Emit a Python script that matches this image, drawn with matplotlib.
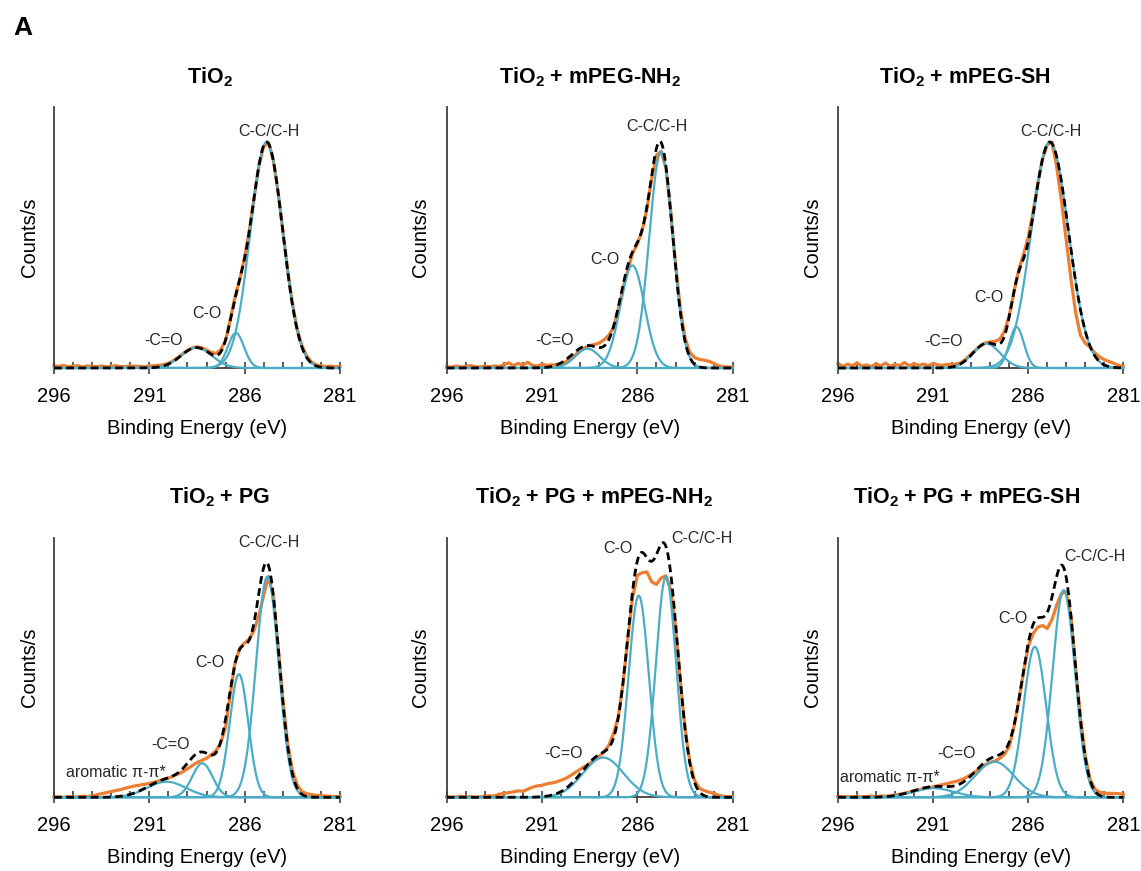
import numpy as np
import matplotlib
matplotlib.use('Agg')
import matplotlib.pyplot as plt
from matplotlib.ticker import MultipleLocator

plt.rcParams['font.family'] = ['Liberation Sans', 'DejaVu Sans']
plt.rcParams['mathtext.fontset'] = 'custom'
plt.rcParams['mathtext.rm'] = 'Liberation Sans'
plt.rcParams['mathtext.bf'] = 'Liberation Sans:bold'

# ---------------- data ----------------
titles = ['TiO$_\\mathbf{2}$', 'TiO$_\\mathbf{2}$ + mPEG-NH$_\\mathbf{2}$', 'TiO$_\\mathbf{2}$ + mPEG-SH',
          'TiO$_\\mathbf{2}$ + PG', 'TiO$_\\mathbf{2}$ + PG + mPEG-NH$_\\mathbf{2}$', 'TiO$_\\mathbf{2}$ + PG + mPEG-SH']

# measured binding-energy grid: 296 -> 281 eV in 0.25 eV steps (61 points)
energy = np.arange(296.0, 280.99, -0.25)

# measured spectra (counts/s, arbitrary units), one value per grid point
p1_counts = [0.9, 0.6, 1.0, 0.5, 0.7, 0.9, 0.4, 0.8, 0.6,
             0.5, 0.8, 0.4, 0.7, 0.9, 0.5, 0.6, 0.8, 0.7,
             0.6, 0.5, 0.8, 0.9, 1.0, 1.3, 1.8, 2.8, 4.0,
             5.4, 6.8, 7.7, 8.1, 7.8, 6.9, 6.0, 5.6, 7.0,
             10.5, 18.8, 27.5, 34.0, 42.5, 53.0, 65.5, 77.5, 85.0,
             86.3, 79.8, 67.5, 52.8, 37.8, 25.0, 15.0, 8.6, 4.6,
             2.3, 1.2, 0.8, 0.6, 0.7, 0.5, 0.6]
p2_counts = [0.5, 0.3, 0.8, 0.4, 0.6, 0.9, 0.5, 0.4, 0.7,
             0.5, 0.8, 0.6, 1.2, 2.0, 0.9, 1.8, 1.1, 2.2,
             1.0, 0.8, 1.4, 1.0, 1.2, 1.3, 1.8, 2.4, 3.6,
             5.0, 6.6, 7.8, 8.6, 9.0, 9.6, 10.8, 12.5, 15.5,
             22.5, 30.5, 37.5, 44.0, 47.5, 52.5, 61.0, 72.5, 81.5,
             83.0, 76.5, 60.0, 40.0, 23.0, 11.5, 6.0, 4.0, 3.3,
             3.0, 2.6, 1.8, 0.9, 0.5, 0.4, 0.3]
p3_counts = [1.8, 0.6, 1.5, 0.8, 2.0, 0.7, 1.2, 0.5, 1.6,
             0.8, 1.9, 0.6, 1.4, 0.9, 2.1, 0.8, 1.7, 1.0,
             1.5, 0.9, 1.8, 1.2, 1.0, 1.4, 1.3, 1.6, 2.2,
             3.6, 5.3, 7.0, 8.5, 9.6, 10.0, 10.2, 11.0, 14.0,
             20.0, 29.0, 37.5, 43.5, 50.0, 59.5, 70.5, 80.0, 85.5,
             86.5, 77.0, 64.0, 49.0, 34.0, 21.0, 12.5, 9.5, 8.0,
             5.8, 4.2, 3.2, 2.5, 1.8, 1.0, 0.6]
p4_counts = [0.1, 0.2, 0.0, 0.3, 0.1, 0.2, 0.4, 0.3, 0.5,
             1.0, 1.4, 1.8, 2.2, 2.6, 3.0, 3.5, 4.0, 4.4,
             4.7, 5.0, 5.4, 5.8, 6.3, 6.9, 7.4, 8.2, 9.0,
             9.8, 11.0, 12.2, 13.4, 14.2, 15.0, 16.4, 18.0, 21.0,
             27.0, 40.0, 52.0, 57.5, 59.5, 61.0, 64.5, 70.0, 78.0,
             85.0, 77.5, 58.5, 38.0, 21.0, 10.5, 4.8, 2.2, 1.4,
             1.0, 0.8, 0.6, 0.5, 0.4, 0.3, 0.3]
p5_counts = [0.3, 0.0, 0.2, 0.4, 0.1, 0.3, 0.0, 0.2, 0.3,
             0.6, 0.5, 1.2, 1.5, 1.8, 2.1, 2.5, 2.3, 3.1,
             3.9, 4.4, 4.6, 5.2, 5.5, 5.9, 6.6, 7.3, 8.4,
             9.6, 10.8, 11.9, 13.0, 14.5, 15.8, 17.5, 20.0, 24.5,
             31.0, 44.0, 61.0, 77.0, 85.5, 86.5, 86.8, 83.0, 82.0,
             84.5, 85.3, 80.0, 66.0, 45.0, 26.5, 13.8, 6.5, 3.5,
             2.6, 2.0, 1.5, 0.8, 0.4, 0.2, 0.3]
p6_counts = [0.4, 0.2, 0.3, 0.1, 0.4, 0.2, 0.3, 0.5, 0.2,
             0.5, 0.4, 0.6, 0.9, 1.2, 1.6, 2.0, 2.5, 2.9,
             3.3, 3.6, 4.0, 4.5, 4.9, 5.3, 5.8, 6.2, 6.8,
             7.7, 8.8, 10.0, 11.3, 12.6, 13.4, 14.0, 15.0, 16.5,
             19.5, 27.0, 37.0, 48.0, 58.0, 63.0, 65.5, 66.2, 65.0,
             68.5, 74.0, 78.5, 79.0, 69.5, 49.5, 30.5, 16.0, 7.0,
             3.2, 2.0, 1.6, 1.5, 1.5, 1.4, 1.2]

# fitted components: centre (eV), height, FWHM (eV); envelope fit parameters likewise
p1_centers = [284.85, 286.46, 288.53]
p1_heights = [86.6, 13.4, 7.8]
p1_fwhm = [2.0, 1.0, 1.9]
p1_env_heights = [86.6, 13.4, 7.8]
p1_env_fwhm = [2.0, 1.0, 1.9]
p1_labels = ['C-C/C-H', 'C-O', '-C=O']

p2_centers = [284.76, 286.26, 288.62]
p2_heights = [82.8, 39.3, 7.4]
p2_fwhm = [1.45, 1.5, 1.5]
p2_env_heights = [83.0, 40.0, 8.5]
p2_env_fwhm = [1.45, 1.6, 1.9]
p2_labels = ['C-C/C-H', 'C-O', '-C=O']

p3_centers = [284.86, 286.61, 288.19]
p3_heights = [86.6, 15.7, 9.3]
p3_fwhm = [2.3, 0.9, 1.7]
p3_env_heights = [86.6, 15.7, 9.3]
p3_env_fwhm = [2.3, 0.9, 1.7]
p3_labels = ['C-C/C-H', 'C-O', '-C=O']

p4_centers = [284.81, 286.30, 288.22, 290.10]
p4_heights = [85.0, 47.4, 13.1, 6.0]
p4_fwhm = [1.4, 1.15, 1.25, 2.4]
p4_env_heights = [88.0, 51.0, 16.0, 6.5]
p4_env_fwhm = [1.45, 1.4, 1.8, 2.4]
p4_labels = ['C-C/C-H', 'C-O', '-C=O', 'aromatic \u03c0-\u03c0*']

p5_centers = [284.50, 285.93, 287.79]
p5_heights = [85.0, 77.7, 15.3]
p5_fwhm = [1.25, 1.25, 2.5]
p5_env_heights = [90.9, 81.5, 16.5]
p5_env_fwhm = [1.5, 1.45, 2.6]
p5_labels = ['C-C/C-H', 'C-O', '-C=O']

p6_centers = [284.13, 285.65, 287.77, 290.99]
p6_heights = [79.8, 58.0, 13.7, 3.5]
p6_fwhm = [1.4, 1.4, 2.4, 2.5]
p6_env_heights = [82.5, 62.0, 15.0, 4.0]
p6_env_fwhm = [1.45, 1.65, 2.5, 2.5]
p6_labels = ['C-C/C-H', 'C-O', '-C=O', 'aromatic \u03c0-\u03c0*']

panels = [
    (p1_counts, p1_centers, p1_heights, p1_fwhm, p1_env_heights, p1_env_fwhm, p1_labels),
    (p2_counts, p2_centers, p2_heights, p2_fwhm, p2_env_heights, p2_env_fwhm, p2_labels),
    (p3_counts, p3_centers, p3_heights, p3_fwhm, p3_env_heights, p3_env_fwhm, p3_labels),
    (p4_counts, p4_centers, p4_heights, p4_fwhm, p4_env_heights, p4_env_fwhm, p4_labels),
    (p5_counts, p5_centers, p5_heights, p5_fwhm, p5_env_heights, p5_env_fwhm, p5_labels),
    (p6_counts, p6_centers, p6_heights, p6_fwhm, p6_env_heights, p6_env_fwhm, p6_labels),
]

# ---------------- layout (pixels) ----------------
W, H = 1141, 871
col_lr = [(54, 340), (446.7, 732.7), (838, 1123.3)]
row_tb = [(107, 368), (537.7, 797.3)]
ylabel_x = [39, 430, 821.7]
title_xy = [(210, 83), (590, 83), (965, 83), (220, 503), (594, 503), (967, 503)]
label_pos = [
    [(284.71, 90.8), (287.97, 20.8), (290.24, 10.6)],
    [(284.99, 92.7), (287.73, 41.5), (290.35, 10.6)],
    [(284.80, 90.7), (288.06, 27.2), (290.46, 10.0)],
    [(284.73, 98.1), (287.83, 51.9), (289.89, 20.2), (292.73, 9.5)],
    [(282.63, 99.5), (287.00, 95.9), (289.88, 16.9)],
    [(282.49, 92.7), (286.82, 68.9), (289.76, 16.9), (293.27, 7.6)],
]

ORANGE = '#ED7D31'
CYAN = '#4BACC6'
AXC = '#404040'

def peak(x, c, h, f):
    return h * np.exp(-4 * np.log(2) * ((x - c) / f) ** 2)

fig = plt.figure(figsize=(W / 100, H / 100), dpi=100)
xs = np.linspace(296, 281, 601)

for i, (cnt, cen, hts, fw, eh, ef, labs) in enumerate(panels):
    r, c = divmod(i, 3)
    l, rr = col_lr[c]
    t, b = row_tb[r]
    ax = fig.add_axes([l / W, 1 - b / H, (rr - l) / W, (b - t) / H])
    ax.set_xlim(296, 281)
    ax.set_ylim(0, 100)
    ax.plot(energy, cnt, color=ORANGE, lw=2.3, zorder=2, clip_on=False, solid_joinstyle='round')
    for cc, hh, ff in zip(cen, hts, fw):
        ax.plot(xs, peak(xs, cc, hh, ff), color=CYAN, lw=1.6, zorder=3, clip_on=False)
    env = sum(peak(xs, cc, hh, ff) for cc, hh, ff in zip(cen, eh, ef))
    ax.plot(xs, env, color='black', lw=2.0, ls=(0, (2.8, 1.6)), zorder=4, clip_on=False)
    for lab, (lx, ly) in zip(labs, label_pos[i]):
        ax.text(lx, ly, lab, ha='center', va='center', fontsize=11.5, color='#262626')
    ax.spines['top'].set_visible(False)
    ax.spines['right'].set_visible(False)
    for s in ('left', 'bottom'):
        ax.spines[s].set_color(AXC)
        ax.spines[s].set_linewidth(1.3)
    ax.set_yticks([])
    ax.set_xticks([296, 291, 286, 281])
    ax.xaxis.set_minor_locator(MultipleLocator(1))
    ax.tick_params(which='major', direction='inout', length=9, width=1.2, color=AXC,
                   labelsize=14.5, pad=9)
    ax.tick_params(which='minor', direction='in', length=4, width=1.2, color=AXC)
    ax.set_ylabel('Counts/s', fontsize=14.5)
    ax.yaxis.set_label_coords((ylabel_x[c] - l) / (rr - l), 0.5)
    ax.text(0.5, -0.232, 'Binding Energy (eV)', transform=ax.transAxes, ha='center', va='center',
            fontsize=14.5)
    fig.text(title_xy[i][0] / W, 1 - title_xy[i][1] / H, titles[i], ha='center', va='baseline',
             fontsize=15.5, fontweight='bold')

fig.text(13 / W, 1 - 35 / H, 'A', fontsize=19, fontweight='bold', ha='left', va='baseline')

fig.savefig('out.png', dpi=100)
